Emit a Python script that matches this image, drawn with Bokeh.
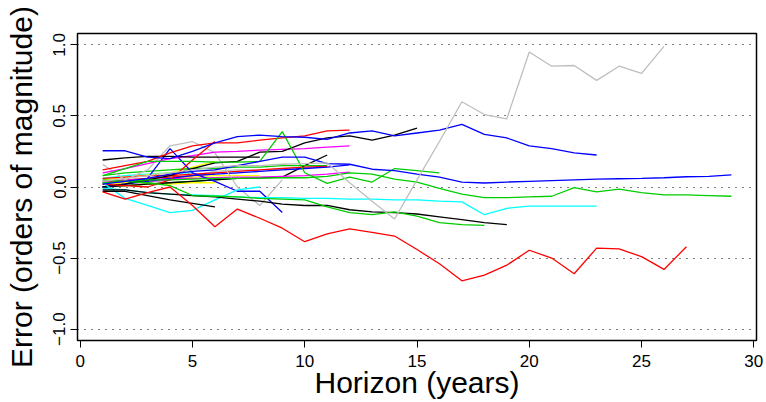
from bokeh.plotting import figure
from bokeh.models import Range1d, FixedTicker, CustomJSTickFormatter
from bokeh.embed import file_html
from bokeh.resources import INLINE

# ---- data (error in orders of magnitude by forecast horizon, horizon starts at 1) ----
red_low = [-0.035, -0.085, -0.04, 0.0, -0.13, -0.28, -0.155, -0.22, -0.29, -0.385, -0.33, -0.295,
           -0.32, -0.345, -0.44, -0.54, -0.66, -0.62, -0.55, -0.445, -0.50, -0.61, -0.43, -0.435,
           -0.49, -0.58, -0.42]
blue_long = [0.02, 0.04, 0.06, 0.09, 0.11, 0.12, 0.15, 0.18, 0.21, 0.21, 0.165, 0.16, 0.125, 0.115,
             0.09, 0.07, 0.035, 0.028, 0.035, 0.04, 0.045, 0.05, 0.055, 0.058, 0.06, 0.065, 0.072,
             0.075, 0.085]
blue_up = [0.255, 0.255, 0.21, 0.2, 0.25, 0.31, 0.355, 0.365, 0.355, 0.35, 0.335, 0.38, 0.395, 0.36,
           0.38, 0.40, 0.44, 0.37, 0.345, 0.29, 0.27, 0.24, 0.225]
green_long = [0.03, 0.04, 0.05, 0.05, 0.055, 0.06, 0.06, 0.063, 0.065, 0.065, 0.075, 0.1, 0.09, 0.055,
              0.035, -0.01, -0.05, -0.075, -0.075, -0.07, -0.065, -0.005, -0.035, -0.015, -0.04,
              -0.055, -0.055, -0.06, -0.065]
green_spike = [0.08, 0.13, 0.18, 0.18, 0.18, 0.175, 0.175, 0.18, 0.39, 0.1, 0.025, 0.07, 0.035, 0.13,
               0.115, 0.1]
green_down = [0.05, 0.04, 0.03, 0.01, -0.06, -0.065, -0.07, -0.08, -0.085, -0.09, -0.14, -0.18,
              -0.195, -0.175, -0.205, -0.25, -0.265, -0.27]
black_long = [-0.02, -0.02, -0.04, -0.05, -0.06, -0.07, -0.085, -0.1, -0.12, -0.13, -0.13, -0.16,
              -0.175, -0.18, -0.19, -0.21, -0.23, -0.25, -0.265]
black_short_low = [-0.03, -0.03, -0.06, -0.09, -0.115, -0.14]
cyan_long = [-0.01, -0.02, -0.04, -0.05, -0.055, -0.06, -0.07, -0.075, -0.075, -0.08, -0.08, -0.085,
             -0.085, -0.09, -0.09, -0.1, -0.105, -0.195, -0.15, -0.135, -0.135, -0.135, -0.135]
cyan_dip = [0.03, -0.08, -0.13, -0.18, -0.165, -0.09, -0.02, 0.0]
red_up = [0.12, 0.15, 0.18, 0.24, 0.29, 0.31, 0.31, 0.33, 0.345, 0.36, 0.395, 0.40]
red_steep = [0.02, 0.01, 0.0, 0.05, 0.19, 0.32]
black_rise = [0.0, 0.02, 0.05, 0.08, 0.13, 0.17, 0.18, 0.245, 0.25, 0.31, 0.345, 0.36, 0.33, 0.365, 0.415]
black_flat = [0.19, 0.205, 0.215, 0.215, 0.21, 0.21, 0.21, 0.21]
magenta_up = [0.1, 0.13, 0.165, 0.2, 0.22, 0.245, 0.25, 0.26, 0.265, 0.27, 0.28, 0.29]
blue_spike = [0.0, 0.02, 0.06, 0.27, 0.1, 0.04, -0.03, -0.03, -0.18]
gray_hump = [0.16, 0.05, 0.12, 0.29, 0.32, 0.24, 0.0, -0.13, 0.05]
gray_long = [0.04, 0.06, 0.08, 0.1, 0.12, 0.14, 0.15, 0.15, 0.16, 0.165, 0.17, 0.03, -0.1, -0.225,
             0.05, 0.32, 0.6, 0.51, 0.48, 0.95, 0.85, 0.855, 0.75, 0.85, 0.8, 0.99]
blue_mid = [0.0, 0.02, 0.04, 0.06, 0.08, 0.09, 0.1, 0.11, 0.12, 0.13, 0.14, 0.155]
magenta_mid = [0.04, 0.05, 0.05, 0.06, 0.06, 0.065, 0.07, 0.07, 0.075, 0.08, 0.09, 0.105]
red_mid = [0.06, 0.07, 0.08, 0.08, 0.09, 0.1, 0.11, 0.12, 0.13, 0.14, 0.145]
green_mid = [0.08, 0.1, 0.11, 0.12, 0.13, 0.13, 0.14, 0.14, 0.15, 0.15, 0.15]
black_mid = [0.0, 0.01, 0.02, 0.03, 0.04, 0.05, 0.06, 0.065, 0.07, 0.15, 0.225]
yellow_a = [0.05, 0.07, 0.085, 0.1, 0.14, 0.18]
yellow_b = [0.02, 0.03, 0.04, 0.06, 0.07, 0.08, 0.08, 0.08]
yellow_c = [0.0, 0.01, 0.02, 0.02, 0.03, 0.03]
cyan_short = [0.06, 0.08, 0.09, 0.1, 0.1]
magenta_short = [0.02, 0.03, 0.04, 0.05, 0.07]
green_short = [0.0, 0.01, 0.02, 0.03, 0.04, 0.05, 0.06]
gray_short = [0.02, 0.01, 0.03, 0.05, 0.08, 0.11, 0.12, 0.12]
red_short = [0.03, 0.05, 0.06, 0.07, 0.08, 0.09]

x_ticks = [0, 5, 10, 15, 20, 25, 30]
y_ticks = [-1.0, -0.5, 0.0, 0.5, 1.0]
x_title = "Horizon (years)"
y_title = "Error (orders of magnitude)"

BLACK, RED, GREEN, BLUE = "#000000", "#FF0000", "#00CD00", "#0000FF"
CYAN, MAGENTA, YELLOW, GRAY = "#00FFFF", "#FF00FF", "#FFFF00", "#BEBEBE"

series = [
    (gray_short, GRAY), (green_short, GREEN), (yellow_c, YELLOW), (magenta_short, MAGENTA),
    (cyan_short, CYAN), (red_short, RED), (yellow_b, YELLOW), (yellow_a, YELLOW),
    (black_mid, BLACK), (green_mid, GREEN), (red_mid, RED), (magenta_mid, MAGENTA),
    (blue_mid, BLUE), (gray_hump, GRAY), (blue_spike, BLUE), (magenta_up, MAGENTA),
    (black_flat, BLACK), (black_rise, BLACK), (red_steep, RED), (red_up, RED),
    (cyan_dip, CYAN), (cyan_long, CYAN), (black_short_low, BLACK), (black_long, BLACK),
    (green_down, GREEN), (green_spike, GREEN), (green_long, GREEN), (blue_up, BLUE),
    (blue_long, BLUE), (gray_long, GRAY), (red_low, RED),
]

FONT = "Liberation Sans"

p = figure(width=766, height=402, x_range=Range1d(-0.12, 30.12), y_range=Range1d(-1.08, 1.08),
           output_backend="svg", toolbar_location=None,
           min_border_left=77, min_border_right=10, min_border_top=33, min_border_bottom=62)
p.background_fill_color = "white"
p.border_fill_color = "white"
p.outline_line_color = "black"
p.outline_line_width = 1.5

for vals, col in series:
    p.line(x=list(range(1, len(vals) + 1)), y=vals, line_color=col, line_width=1.3)

p.xaxis.ticker = FixedTicker(ticks=x_ticks)
p.yaxis.ticker = FixedTicker(ticks=y_ticks)
p.yaxis.formatter = CustomJSTickFormatter(code="return tick.toFixed(1).replace('-', '\u2212');")
p.yaxis.major_label_orientation = "vertical"
p.xaxis.axis_label = x_title
p.yaxis.axis_label = y_title
for ax in (p.xaxis, p.yaxis):
    ax.axis_line_color = None
    ax.major_tick_out = 7
    ax.major_tick_in = 0
    ax.minor_tick_line_color = None
    ax.major_tick_line_color = "black"
    ax.major_label_text_font = FONT
    ax.major_label_text_font_size = "17px"
    ax.major_label_text_color = "black"
    ax.axis_label_text_font = FONT
    ax.axis_label_text_font_size = "30px"
    ax.axis_label_text_font_style = "normal"
    ax.axis_label_text_color = "black"
p.xaxis.major_label_standoff = 7
p.yaxis.major_label_standoff = 5
p.xaxis.axis_label_standoff = -4
p.yaxis.axis_label_standoff = 13

p.xgrid.visible = False
p.ygrid.grid_line_color = "black"
p.ygrid.grid_line_dash = "1 6"
p.ygrid.grid_line_width = 1

open("out.html", "w").write(file_html(p, INLINE))
